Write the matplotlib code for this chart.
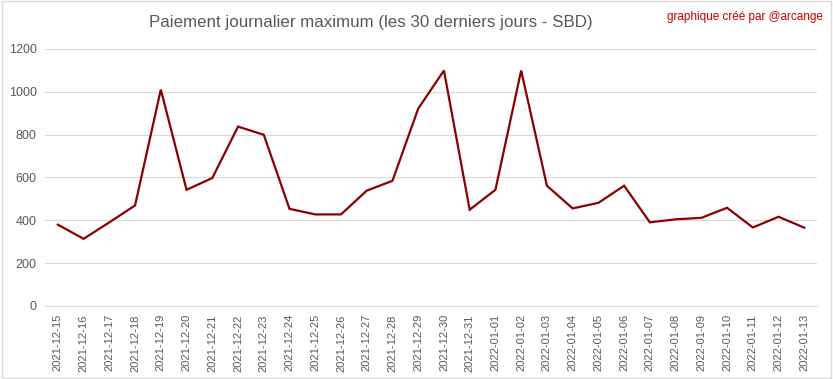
import matplotlib
matplotlib.use("Agg")
import matplotlib.pyplot as plt
from matplotlib.patches import Rectangle

# Data
dates = ["2021-12-15", "2021-12-16", "2021-12-17", "2021-12-18", "2021-12-19",
         "2021-12-20", "2021-12-21", "2021-12-22", "2021-12-23", "2021-12-24",
         "2021-12-25", "2021-12-26", "2021-12-27", "2021-12-28", "2021-12-29",
         "2021-12-30", "2021-12-31", "2022-01-01", "2022-01-02", "2022-01-03",
         "2022-01-04", "2022-01-05", "2022-01-06", "2022-01-07", "2022-01-08",
         "2022-01-09", "2022-01-10", "2022-01-11", "2022-01-12", "2022-01-13"]
payout = [379, 313, 390, 469, 1010, 542, 597, 837, 799, 453,
          427, 427, 538, 584, 921, 1099, 449, 542, 1099, 561,
          455, 481, 561, 390, 404, 411, 458, 366, 416, 365]
yticks = [0, 200, 400, 600, 800, 1000, 1200]

plt.rcParams['font.family'] = ['Liberation Sans', 'DejaVu Sans']

fig = plt.figure(figsize=(8.33, 3.79), dpi=100)
ax = fig.add_axes([0.054, 0.193, 0.927, 0.678])

x = range(len(dates))
ax.plot(x, payout, color="#8b0000", linewidth=1.6, solid_joinstyle="miter")

ax.set_xlim(-0.5, len(dates) - 0.5)
ax.set_ylim(0, 1200)
ax.set_yticks(yticks)
ax.set_yticklabels([str(v) for v in yticks], color="#595959", fontsize=9)
ax.set_xticks(list(x))
ax.set_xticklabels(dates, rotation=90, color="#595959", fontsize=8)
ax.tick_params(length=0, pad=6)
ax.grid(axis="y", color="#d9d9d9", linewidth=0.8)
ax.set_axisbelow(True)
for s in ["top", "left", "right"]:
    ax.spines[s].set_visible(False)
ax.spines["bottom"].set_color("#d9d9d9")

# Title and watermark
fig.text(0.445, 0.94, "Paiement journalier maximum (les 30 derniers jours - SBD)",
         ha="center", va="center", fontsize=12.2, color="#595959")
fig.text(0.988, 0.955, "graphique créé par @arcange", ha="right", va="center",
         fontsize=8.5, color="#c00000")

# light border around the chart
fig.patches.append(Rectangle((0.002, 0.003), 0.995, 0.994, transform=fig.transFigure,
                             fill=False, edgecolor="#d9d9d9", linewidth=1))

fig.savefig("out.png", dpi=100)
